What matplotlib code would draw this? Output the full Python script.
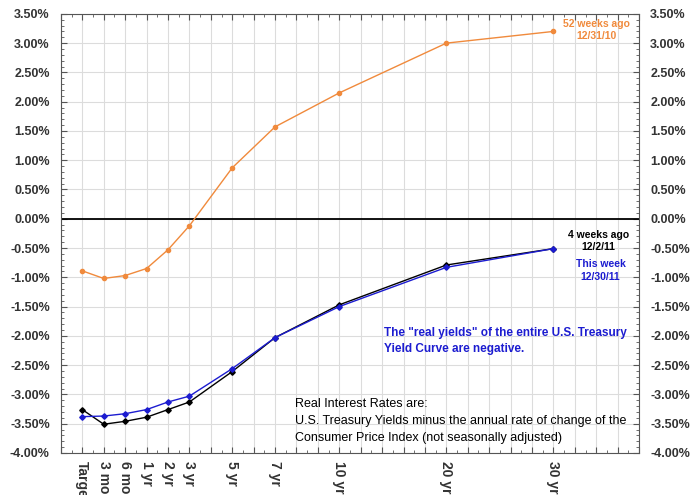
import matplotlib.pyplot as plt
from matplotlib.ticker import MultipleLocator, FuncFormatter

# maturities and their spacing on the x axis
maturities = ["Target", "3 mo", "6 mo", "1 yr", "2 yr", "3 yr", "5 yr", "7 yr", "10 yr", "20 yr", "30 yr"]
positions = [0, 1, 2, 3, 4, 5, 7, 9, 12, 17, 22]

# real yields (%)
year_ago = [-0.89, -1.02, -0.97, -0.85, -0.53, -0.12, 0.87, 1.57, 2.15, 3.00, 3.20]
four_weeks_ago = [-3.26, -3.51, -3.46, -3.39, -3.26, -3.13, -2.61, -2.03, -1.47, -0.79, -0.51]
this_week = [-3.38, -3.37, -3.33, -3.26, -3.13, -3.03, -2.56, -2.03, -1.50, -0.83, -0.51]

plt.rcParams['font.family'] = ['Liberation Sans', 'DejaVu Sans']

fig = plt.figure(figsize=(7, 4.95), dpi=100)
ax = fig.add_axes([0.087, 0.085, 0.826, 0.887])

orange = '#F08A3C'
blue = '#1C1CD0'

ax.plot(positions, year_ago, color=orange, lw=1, marker='o', ms=3, zorder=3)
ax.plot(positions, four_weeks_ago, color='black', lw=1, marker='D', ms=2.8, zorder=3)
ax.plot(positions, this_week, color=blue, lw=1, marker='D', ms=2.8, zorder=4)
ax.axhline(0, color='black', lw=1.3, zorder=2)

ax.set_xlim(-1, 26)
ax.set_ylim(-4.0, 3.5)

ax.yaxis.set_major_locator(MultipleLocator(0.5))
ax.yaxis.set_minor_locator(MultipleLocator(0.1))
ax.yaxis.set_major_formatter(FuncFormatter(lambda v, p: f"{v:.2f}%"))
ax.xaxis.set_major_locator(MultipleLocator(1))
ax.xaxis.set_minor_locator(MultipleLocator(0.5))
ax.xaxis.set_major_formatter(FuncFormatter(lambda v, p: ""))

ax.grid(True, which='major', color='#dcdcdc', lw=0.8)
ax.set_axisbelow(True)
for s in ax.spines.values():
    s.set_color('#555555')
    s.set_linewidth(0.8)

ax.tick_params(axis='both', which='both', direction='in', top=True, right=True,
               labelright=True, color='#555555')
ax.tick_params(axis='both', which='major', length=4)
ax.tick_params(axis='both', which='minor', length=2)
ax.tick_params(axis='y', labelsize=9, pad=8)
for lab in ax.get_yticklabels():
    lab.set_fontweight('bold')
    lab.set_color('#333333')

# rotated maturity labels under the axis (cut at the bottom edge, as in the original)
for pos, name in zip(positions, maturities):
    ax.text(pos, -4.14, name, rotation=-90, ha='center', va='top', fontsize=10,
            fontweight='bold', color='#333333', clip_on=False)

ax.text(24.0, 3.42, "52 weeks ago\n12/31/10", color=orange, fontsize=7.5, ha='center', va='top',
        linespacing=1.3, fontweight='bold')
ax.text(24.1, -0.19, "4 weeks ago\n12/2/11", color='black', fontsize=7.5, ha='center', va='top',
        linespacing=1.3, fontweight='bold')
ax.text(24.2, -0.69, "This week\n12/30/11", color=blue, fontsize=7.5, ha='center', va='top',
        linespacing=1.3, fontweight='bold')
ax.text(14.1, -1.85, 'The "real yields" of the entire U.S. Treasury\nYield Curve are negative.',
        color=blue, fontsize=8.5, fontweight='bold', ha='left', va='top', linespacing=1.4)
ax.text(9.95, -3.06, "Real Interest Rates are:\nU.S. Treasury Yields minus the annual rate of change of the\n"
        "Consumer Price Index (not seasonally adjusted)",
        color='black', fontsize=9, ha='left', va='top', linespacing=1.55)

fig.savefig('out.png', dpi=100)
